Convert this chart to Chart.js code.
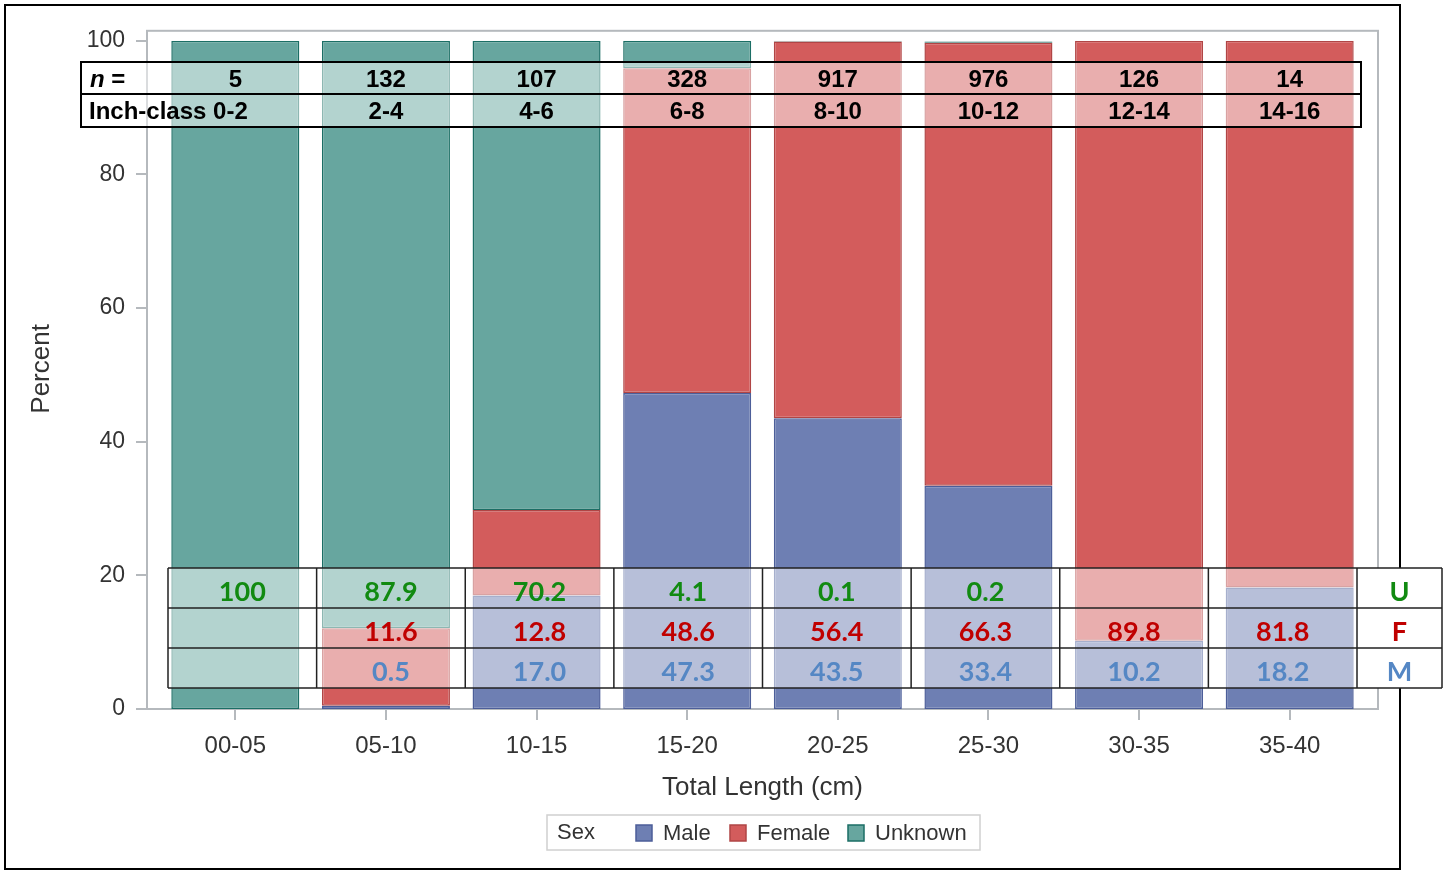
<!DOCTYPE html>
<html>
<head>
    <title>Percent by sex and length class</title>
    <script src="https://cdn.jsdelivr.net/npm/chart.js"></script>
    <style>
        body { margin: 0; background: #fff; }
    </style>
</head>
<body>
    <canvas id="sexChart" width="1449" height="871"></canvas>

    <script>
    // data
    const lengthClasses = ['00-05', '05-10', '10-15', '15-20', '20-25', '25-30', '30-35', '35-40'];
    const inchClasses = ['0-2', '2-4', '4-6', '6-8', '8-10', '10-12', '12-14', '14-16'];
    const sampleSizes = [5, 132, 107, 328, 917, 976, 126, 14];
    const malePct = [null, 0.5, 17.0, 47.3, 43.5, 33.4, 10.2, 18.2];
    const femalePct = [null, 11.6, 12.8, 48.6, 56.4, 66.3, 89.8, 81.8];
    const unknownPct = [100, 87.9, 70.2, 4.1, 0.1, 0.2, null, null];

    const COLORS = {
        male: '#6e7fb3', maleEdge: '#4c5e99',
        female: '#d35c5c', femaleEdge: '#b04545',
        unknown: '#67a69f', unknownEdge: '#1b6e65'
    };
    const FRAME = '#b5b9bd';
    const TEXT = '#333';
    const SANS = '"Liberation Sans", Arial, sans-serif';

    const ctx = document.getElementById('sexChart').getContext('2d');

    function fmt(v) {
        if (v === null) return '';
        return v === 100 ? '100' : v.toFixed(1);
    }

    const overlayPlugin = {
        id: 'overlay',
        beforeDraw(chart) {
            const c = chart.ctx;
            c.save();
            c.fillStyle = '#fff';
            c.fillRect(0, 0, chart.width, chart.height);
            c.strokeStyle = '#000';
            c.lineWidth = 2;
            c.strokeRect(5, 5, 1395, 864);
            c.restore();
        },
        beforeDatasetsDraw(chart) {
            const c = chart.ctx;
            const a = chart.chartArea;
            const y = chart.scales.y;
            const fl = a.left - 13, fr = a.right + 13, ft = a.top - 10, fb = a.bottom;
            c.save();
            c.strokeStyle = FRAME;
            c.lineWidth = 2;
            c.strokeRect(fl, ft, fr - fl, fb - ft);
            // y tick marks
            c.beginPath();
            y.ticks.forEach(t => {
                const py = Math.round(y.getPixelForValue(t.value));
                c.moveTo(fl - 11, py);
                c.lineTo(fl, py);
            });
            c.stroke();

            // axis titles
            c.fillStyle = TEXT;
            c.font = '26px ' + SANS;
            c.textAlign = 'center';
            c.textBaseline = 'middle';
            c.fillText('Total Length (cm)', (fl + fr) / 2, 788);
            c.save();
            c.translate(42, (a.top + a.bottom) / 2 - 6);
            c.rotate(-Math.PI / 2);
            c.fillText('Percent', 0, 0);
            c.restore();

            // legend
            c.strokeStyle = '#d0d0d0';
            c.lineWidth = 1.5;
            c.strokeRect(547, 815, 433, 35);
            c.font = '22px ' + SANS;
            c.textAlign = 'left';
            c.fillText('Sex', 557, 833);
            const items = [
                ['Male', COLORS.male, COLORS.maleEdge, 636],
                ['Female', COLORS.female, COLORS.femaleEdge, 730],
                ['Unknown', COLORS.unknown, COLORS.unknownEdge, 848]
            ];
            items.forEach(([label, fill, edge, x]) => {
                c.fillStyle = fill;
                c.fillRect(x, 825, 16, 16);
                c.strokeStyle = edge;
                c.lineWidth = 1.5;
                c.strokeRect(x, 825, 16, 16);
                c.fillStyle = TEXT;
                c.fillText(label, x + 27, 834);
            });
            c.restore();
        },
        afterDatasetsDraw(chart) {
            const c = chart.ctx;
            const xs = chart.scales.x;
            c.save();

            // top table: n and inch class
            c.fillStyle = 'rgba(255,255,255,0.5)';
            c.fillRect(81, 62, 1280, 65);
            c.strokeStyle = '#000';
            c.lineWidth = 2;
            c.strokeRect(81, 62, 1280, 32);
            c.strokeRect(81, 94, 1280, 33);
            c.fillStyle = '#000';
            c.textBaseline = 'middle';
            c.textAlign = 'left';
            c.font = 'italic bold 24px ' + SANS;
            c.fillText('n', 90, 80);
            c.font = 'bold 24px ' + SANS;
            c.fillText(' =', 90 + c.measureText('n').width, 80);
            c.fillText('Inch-class ' + inchClasses[0], 89, 112);
            c.textAlign = 'center';
            lengthClasses.forEach((lab, i) => {
                const px = xs.getPixelForValue(i);
                c.fillText(String(sampleSizes[i]), px, 80);
                if (i > 0) c.fillText(inchClasses[i], px, 112);
            });

            // bottom table: U / F / M percentages
            const tl = 168, tr = 1357, lr = 1442;
            const rows = [568, 608, 648, 688];
            const cw = (tr - tl) / lengthClasses.length;
            c.fillStyle = 'rgba(255,255,255,0.5)';
            c.fillRect(tl, rows[0], tr - tl, rows[3] - rows[0]);
            c.fillStyle = '#fff';
            c.fillRect(tr, rows[0], lr - tr, rows[3] - rows[0]);
            c.strokeStyle = '#222';
            c.lineWidth = 1.5;
            c.beginPath();
            rows.forEach(r => { c.moveTo(tl, r); c.lineTo(lr, r); });
            for (let i = 0; i <= lengthClasses.length; i++) {
                c.moveTo(tl + i * cw, rows[0]);
                c.lineTo(tl + i * cw, rows[3]);
            }
            c.moveTo(lr, rows[0]);
            c.lineTo(lr, rows[3]);
            c.stroke();

            const series = [
                [unknownPct, '#118a11', 'U'],
                [femalePct, '#c00000', 'F'],
                [malePct, '#5587c4', 'M']
            ];
            c.font = 'bold 27px Lato, "Open Sans", sans-serif';
            c.textAlign = 'center';
            series.forEach(([vals, col, key], r) => {
                const cy = (rows[r] + rows[r + 1]) / 2 + 4;
                c.fillStyle = col;
                vals.forEach((v, i) => c.fillText(fmt(v), tl + (i + 0.5) * cw, cy));
                c.fillText(key, (tr + lr) / 2, cy);
            });
            c.restore();
        }
    };

    const barStyle = { borderWidth: 1.5, borderSkipped: false, barPercentage: 0.85, categoryPercentage: 1.0 };

    new Chart(ctx, {
        type: 'bar',
        data: {
            labels: lengthClasses,
            datasets: [
                Object.assign({ label: 'Male', data: malePct, backgroundColor: COLORS.male, borderColor: COLORS.maleEdge }, barStyle),
                Object.assign({ label: 'Female', data: femalePct, backgroundColor: COLORS.female, borderColor: COLORS.femaleEdge }, barStyle),
                Object.assign({ label: 'Unknown', data: unknownPct, backgroundColor: COLORS.unknown, borderColor: COLORS.unknownEdge }, barStyle)
            ]
        },
        options: {
            responsive: false,
            animation: false,
            layout: { padding: { left: 60, right: 84, top: 30, bottom: 0 } },
            plugins: {
                legend: { display: false },
                tooltip: { enabled: false }
            },
            scales: {
                x: {
                    stacked: true,
                    afterFit: s => { s.height = 162; },
                    border: { display: false },
                    grid: { display: true, drawOnChartArea: false, offset: false, tickLength: 11, color: FRAME, lineWidth: 2 },
                    ticks: { color: TEXT, padding: 12, font: { size: 24, family: SANS } }
                },
                y: {
                    stacked: true,
                    min: 0,
                    max: 100,
                    afterFit: s => { s.width = 100; },
                    border: { display: false },
                    grid: { display: false },
                    ticks: { stepSize: 20, color: TEXT, padding: 27, font: { size: 23, family: SANS } }
                }
            }
        },
        plugins: [overlayPlugin]
    });
    </script>
</body>
</html>
